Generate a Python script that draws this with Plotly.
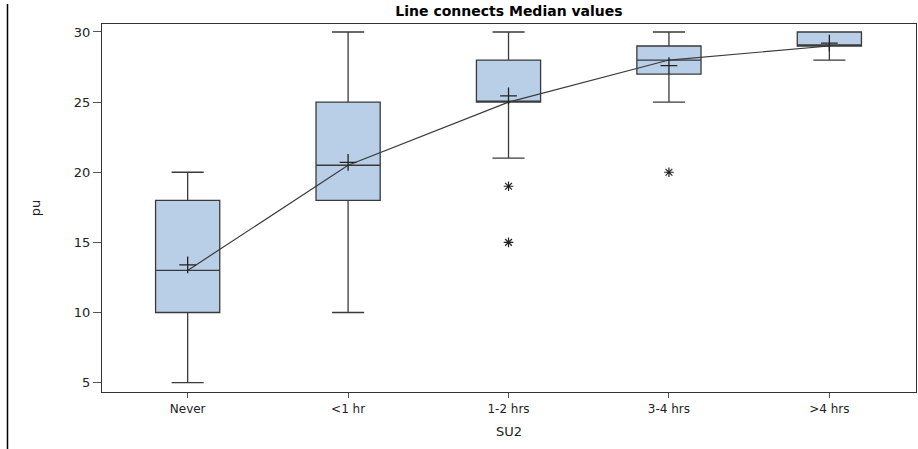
import plotly.graph_objects as go

categories = ["Never", "<1 hr", "1-2 hrs", "3-4 hrs", ">4 hrs"]
q1 = [10, 18, 25, 27, 29]
median = [13, 20.5, 25, 28, 29]
q3 = [18, 25, 28, 29, 30]
lower_whisker = [5, 10, 21, 25, 28]
upper_whisker = [20, 30, 30, 30, 30]
means = [13.4, 20.7, 25.45, 27.6, 29.2]
outlier_cat = [2, 2, 3]
outlier_val = [19, 15, 20]

xpos = list(range(len(categories)))
font_family = "DejaVu Sans, Liberation Sans, Arial, sans-serif"
line_col = "#3a3a3a"

fig = go.Figure()
fig.add_trace(go.Box(
    x=xpos, q1=q1, median=median, q3=q3,
    lowerfence=lower_whisker, upperfence=upper_whisker,
    width=0.4, whiskerwidth=0.5,
    fillcolor="#B9CFE8", line=dict(color=line_col, width=1.3),
    boxpoints=False, showlegend=False, hoverinfo="skip",
))
fig.add_trace(go.Scatter(
    x=xpos, y=median, mode="lines",
    line=dict(color=line_col, width=1.2), showlegend=False,
))
fig.add_trace(go.Scatter(
    x=xpos, y=means, mode="markers",
    marker=dict(symbol="cross-thin-open", size=12, color="#222",
                line=dict(color="#222", width=1.3)),
    showlegend=False,
))
fig.add_trace(go.Scatter(
    x=outlier_cat, y=outlier_val, mode="markers",
    marker=dict(symbol="asterisk-open", size=8, color="#222",
                line=dict(color="#222", width=1.2)),
    showlegend=False,
))

fig.update_layout(
    width=918, height=449,
    margin=dict(l=102, r=2, t=24, b=57, autoexpand=False),
    paper_bgcolor="white", plot_bgcolor="white",
    font=dict(family=font_family, size=12, color="#222"),
    title=dict(text="<b>Line connects Median values</b>", x=0.5, xref="paper",
               y=0.976, yanchor="middle", font=dict(size=14, color="#000")),
    xaxis=dict(
        range=[-0.534, 4.54], tickvals=xpos, ticktext=categories,
        showgrid=False, zeroline=False, ticks="outside", ticklen=5,
        tickcolor="#555", showline=True, linecolor="#333", linewidth=1.3, mirror=True,
        title=dict(text="SU2", font=dict(size=13), standoff=12),
        tickfont=dict(size=12, color="#222"), automargin=False,
    ),
    yaxis=dict(
        range=[4.33, 30.57], tickvals=[5, 10, 15, 20, 25, 30],
        showgrid=False, zeroline=False, ticks="outside", ticklen=8,
        tickcolor="#555", showline=True, linecolor="#333", linewidth=1.3, mirror=True,
        title=dict(text="pu", font=dict(size=13), standoff=30),
        tickfont=dict(size=13, color="#222"), automargin=False,
    ),
    shapes=[dict(type="line", xref="paper", yref="paper",
                 x0=-102/814 + 7.5/814, x1=-102/814 + 7.5/814,
                 y0=-57/368, y1=1 + 20/368,
                 line=dict(color="#000", width=1.5))],
)

post = ("document.body.style.margin='0';document.body.style.overflow='hidden';"
        "var gd=document.getElementById('{plot_id}');"
        "Plotly.relayout(gd,{width:918,height:449});")
fig.write_html("out.html", config={"responsive": False, "displayModeBar": False},
               post_script=post)
